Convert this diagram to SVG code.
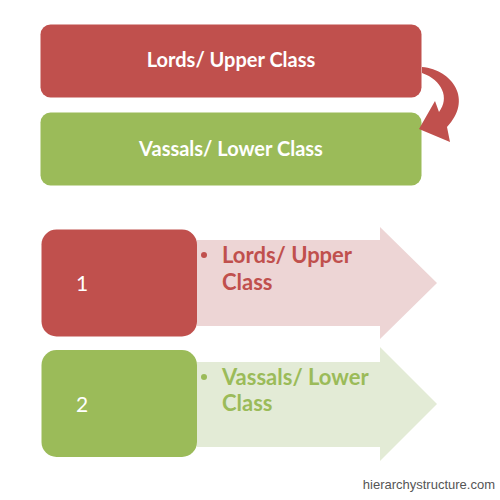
<svg xmlns="http://www.w3.org/2000/svg" width="500" height="500" viewBox="0 0 500 500">
<style>
.t{font-family:Lato,"Liberation Sans",Arial,sans-serif;font-weight:bold}
.n{font-family:Lato,"Liberation Sans",Arial,sans-serif;font-size:21px}
.w{fill:#FFFFFF}
.red{fill:#C0504D}
.grn{fill:#9BBB59}
</style>
<rect width="500" height="500" fill="#FFFFFF"/>
<g id="node-lords">
<rect x="40.5" y="24.5" width="381" height="73" rx="10" class="red"/>
<text x="231" y="67" text-anchor="middle" font-size="20" class="t w">Lords/ Upper Class</text>
</g>
<g id="node-vassals">
<rect x="40.5" y="112.5" width="381" height="73" rx="10" class="grn"/>
<text x="231" y="156" text-anchor="middle" font-size="20" class="t w">Vassals/ Lower Class</text>
</g>
<g id="connectors">
<path d="M422 67 C453 70 473 100 447 127 L450 142 L419 129 L435 101 L439 112 C450 98 442 80 422 73 Z" fill="#C0504D"/>
</g>
<g id="node-1">
<path d="M197 240 H380 V227 L437 283 L380 339 V326 H197 Z" fill="#EDD5D5"/>
<rect x="41.5" y="229.5" width="155.5" height="107" rx="15" class="red"/>
<text x="82" y="291" text-anchor="middle" class="n w">1</text>
<circle cx="204" cy="255" r="3" class="red"/>
<text x="222" y="263" font-size="22" class="t red">Lords/ Upper</text>
<text x="222" y="290" font-size="22" class="t red">Class</text>
</g>
<g id="node-2">
<path d="M197 362 H380 V347 L437 404 L380 461 V447 H197 Z" fill="#E3EBD6"/>
<rect x="41.5" y="350" width="155.5" height="107" rx="15" class="grn"/>
<text x="82" y="412" text-anchor="middle" class="n w">2</text>
<circle cx="204" cy="377" r="3" class="grn"/>
<text x="222" y="385" font-size="22" class="t grn">Vassals/ Lower</text>
<text x="222" y="411" font-size="22" class="t grn">Class</text>
</g>
<text x="495" y="489" text-anchor="end" font-size="13" font-family="'Liberation Sans',Arial,sans-serif" fill="#555555">hierarchystructure.com</text>
</svg>
